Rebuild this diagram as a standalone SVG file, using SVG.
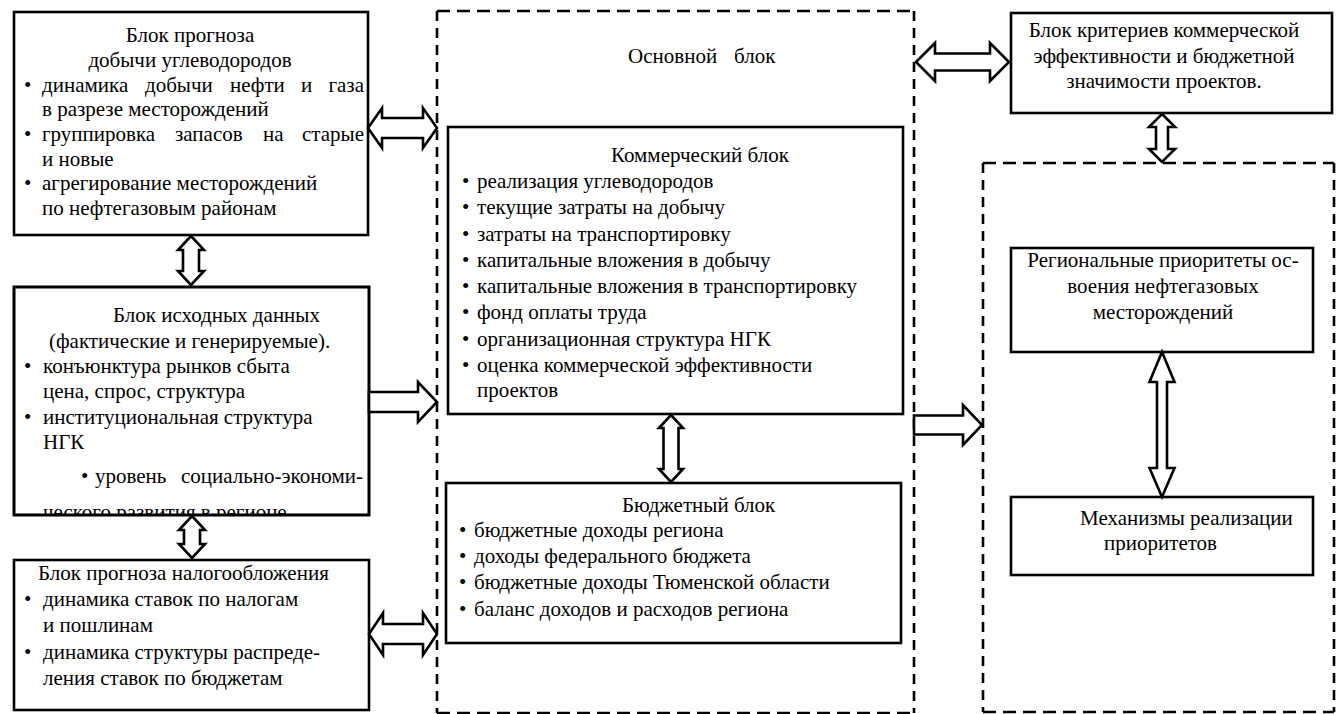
<svg xmlns="http://www.w3.org/2000/svg" width="1336" height="714" viewBox="0 0 1336 714">
<style>
text{font-family:"Liberation Serif","Times New Roman",serif;font-size:21px;fill:#000}
.box{fill:#fff;stroke:#000;stroke-width:2.6}
.dh{stroke:#000;stroke-width:2.6;stroke-dasharray:13 7;fill:none}
.dv{stroke:#000;stroke-width:2.6;stroke-dasharray:10 7;fill:none}
.arr{fill:#fff;stroke:#000;stroke-width:2.6;stroke-linejoin:miter}
.m{text-anchor:middle}
.e{text-anchor:end}
</style>
<defs>
<clipPath id="clip2"><rect x="14" y="287" width="355" height="227"/></clipPath>
</defs>
<rect width="1336" height="714" fill="#fff"/>

<g id="main-block">
<line class="dh" x1="437" y1="11" x2="914" y2="11"/>
<line class="dh" x1="437" y1="713" x2="914" y2="713"/>
<line class="dv" x1="437" y1="11" x2="437" y2="713"/>
<line class="dv" x1="914" y1="11" x2="914" y2="713"/>
<text x="628" y="63">Основной</text><text x="734" y="63">блок</text>
</g>

<g id="right-block">
<line class="dh" x1="983" y1="163" x2="1334" y2="163"/>
<line class="dh" x1="983" y1="712" x2="1334" y2="712"/>
<line class="dv" x1="983" y1="163" x2="983" y2="712"/>
<line class="dv" x1="1334" y1="163" x2="1334" y2="712"/>
</g>

<g id="forecast-production">
<rect class="box" x="14" y="12" width="354" height="223"/>
<text class="m" x="190" y="42">Блок прогноза</text>
<text class="m" x="190" y="66.5">добычи углеводородов</text>
<text x="24" y="91.5">•</text>
<text y="91.5"><tspan x="42">динамика</tspan><tspan x="145">добычи</tspan><tspan x="230">нефти</tspan><tspan x="301">и</tspan><tspan x="364" class="e">газа</tspan></text>
<text x="42" y="116">в разрезе месторождений</text>
<text x="24" y="141">•</text>
<text y="141"><tspan x="42">группировка</tspan><tspan x="175">запасов</tspan><tspan x="263">на</tspan><tspan x="364" class="e">старые</tspan></text>
<text x="42" y="165.5">и новые</text>
<text x="24" y="190">•</text>
<text x="42" y="190">агрегирование месторождений</text>
<text x="42" y="215">по нефтегазовым районам</text>
</g>

<g id="source-data">
<rect class="box" x="14" y="287" width="355" height="228"/>
<text x="113" y="322">Блок исходных данных</text>
<text x="49" y="348">(фактические и генерируемые).</text>
<text x="24" y="373">•</text>
<text x="43" y="373">конъюнктура рынков сбыта</text>
<text x="43" y="398">цена, спрос, структура</text>
<text x="24" y="424">•</text>
<text x="43" y="424">институциональная структура</text>
<text x="43" y="449">НГК</text>
<text x="81" y="483">•</text>
<text y="483"><tspan x="95">уровень</tspan><tspan x="363" class="e">социально-экономи-</tspan></text>
<text x="43" y="519" clip-path="url(#clip2)">ческого развития в регионе</text>
<rect x="14" y="287" width="355" height="228" fill="none" stroke="#000" stroke-width="2.6"/>
</g>

<g id="tax-forecast">
<rect class="box" x="14" y="560" width="355" height="150"/>
<text x="38" y="580">Блок прогноза налогообложения</text>
<text x="24" y="606">•</text>
<text x="43" y="606">динамика ставок по налогам</text>
<text x="43" y="632">и пошлинам</text>
<text x="24" y="659">•</text>
<text x="43" y="659">динамика структуры распреде-</text>
<text x="43" y="685">ления ставок по бюджетам</text>
</g>

<g id="commercial">
<rect class="box" x="448" y="127" width="455" height="287"/>
<text x="611" y="162">Коммерческий блок</text>
<text x="462" y="188">•</text><text x="477" y="188">реализация углеводородов</text>
<text x="462" y="214">•</text><text x="477" y="214">текущие затраты на добычу</text>
<text x="462" y="240.5">•</text><text x="477" y="240.5">затраты на транспортировку</text>
<text x="462" y="266.5">•</text><text x="477" y="266.5">капитальные вложения в добычу</text>
<text x="462" y="293">•</text><text x="477" y="293">капитальные вложения в транспортировку</text>
<text x="462" y="319">•</text><text x="477" y="319">фонд оплаты труда</text>
<text x="462" y="345.5">•</text><text x="477" y="345.5">организационная структура НГК</text>
<text x="462" y="371.5">•</text><text x="477" y="371.5">оценка коммерческой эффективности</text>
<text x="477" y="397">проектов</text>
</g>

<g id="budget">
<rect class="box" x="446" y="483" width="455" height="160"/>
<text x="622" y="512">Бюджетный блок</text>
<text x="459" y="537">•</text><text x="474" y="537">бюджетные доходы региона</text>
<text x="459" y="563">•</text><text x="474" y="563">доходы федерального бюджета</text>
<text x="459" y="589">•</text><text x="474" y="589">бюджетные доходы Тюменской области</text>
<text x="459" y="616">•</text><text x="474" y="616">баланс доходов и расходов региона</text>
</g>

<g id="criteria">
<rect class="box" x="1011" y="13" width="321" height="100"/>
<text class="m" x="1164" y="37">Блок критериев коммерческой</text>
<text class="m" x="1164" y="63">эффективности и бюджетной</text>
<text class="m" x="1164" y="88">значимости проектов.</text>
</g>

<g id="regional-priorities">
<rect class="box" x="1011" y="248" width="302" height="104"/>
<text class="m" x="1163" y="267">Региональные приоритеты ос-</text>
<text class="m" x="1163" y="293">воения нефтегазовых</text>
<text class="m" x="1163" y="319">месторождений</text>
</g>

<g id="mechanisms">
<rect class="box" x="1011" y="497" width="302" height="78"/>
<text x="1080" y="525">Механизмы реализации</text>
<text x="1104" y="550">приоритетов</text>
</g>

<g id="connectors">
<polygon class="arr" points="368,128 382,108 382,118 423,118 423,108 437,128 423,148 423,138 382,138 382,148"/>
<polygon class="arr" points="369,392 418,392 418,382 437,402 418,422 418,412 369,412"/>
<polygon class="arr" points="369,634 383,613 383,624 423,624 423,613 437,634 423,655 423,644 383,644 383,655"/>
<polygon class="arr" points="916,62 935,43 935,53.5 990,53.5 990,43 1009,62 990,81 990,70.5 935,70.5 935,81"/>
<polygon class="arr" points="914,415.5 963,415.5 963,405 982,425 963,445 963,434.5 914,434.5"/>
<polygon class="arr" points="191,236 204,250 199,250 199,271 204,271 191,285 178,271 183,271 183,250 178,250"/>
<polygon class="arr" points="192,516 205,530 200,530 200,544 205,544 192,558 179,544 184,544 184,530 179,530"/>
<polygon class="arr" points="671,415 683,428 678.5,428 678.5,469 683,469 671,482 659,469 663.5,469 663.5,428 659,428"/>
<polygon class="arr" points="1162,114 1175,127 1168,127 1168,149 1175,149 1162,162 1149,149 1156,149 1156,127 1149,127"/>
<polygon class="arr" points="1162,352 1174.5,382 1167,382 1167,468 1174.5,468 1162,497 1149.5,468 1157,468 1157,382 1149.5,382"/>
</g>
</svg>
